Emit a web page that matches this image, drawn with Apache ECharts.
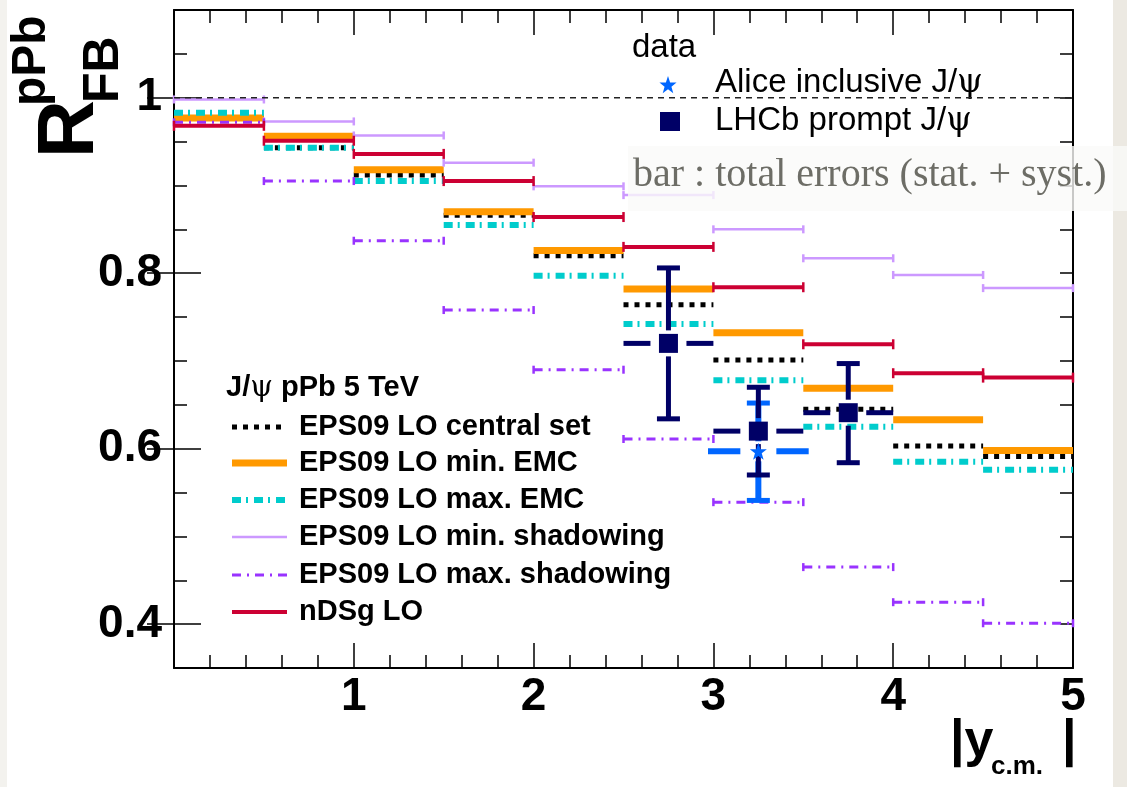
<!DOCTYPE html>
<html>
<head>
<meta charset="UTF-8">
<title>R_FB pPb - J/psi</title>
<script src="https://cdn.jsdelivr.net/npm/echarts@6/dist/echarts.min.js"></script>
<style>
  html, body { margin: 0; padding: 0; background: #ffffff; }
  #chart { width: 1127px; height: 787px; }
</style>
</head>
<body>
<div id="chart"></div>
<script>
// ---------------- data ----------------
// |y_cm| bins
const binLo = [0, 0.5, 1, 1.5, 2, 2.5, 3, 3.5, 4, 4.5];
const binHi = [0.5, 1, 1.5, 2, 2.5, 3, 3.5, 4, 4.5, 5];

// model curves (one value per bin)
const eps09Central   = [0.977, 0.943, 0.912, 0.866, 0.820, 0.764, 0.701, 0.645, 0.603, 0.591];
const eps09MinEMC    = [0.977, 0.956, 0.918, 0.870, 0.826, 0.782, 0.732, 0.669, 0.633, 0.598];
const eps09MaxEMC    = [0.983, 0.943, 0.905, 0.855, 0.797, 0.742, 0.678, 0.625, 0.585, 0.576];
const eps09MinShadow = [0.998, 0.973, 0.957, 0.926, 0.899, 0.889, 0.850, 0.817, 0.798, 0.783];
const eps09MaxShadow = [0.972, 0.905, 0.837, 0.758, 0.690, 0.611, 0.539, 0.465, 0.425, 0.401];
const ndsgLO         = [0.968, 0.951, 0.936, 0.905, 0.864, 0.830, 0.784, 0.719, 0.686, 0.681];

// measurements
const lhcbX    = [2.75, 3.25, 3.75];
const lhcbXerr = [0.25, 0.25, 0.25];
const lhcbY    = [0.720, 0.620, 0.641];
const lhcbYlo  = [0.634, 0.570, 0.584];
const lhcbYhi  = [0.806, 0.670, 0.697];

const aliceX    = [3.25];
const aliceXerr = [0.28];
const aliceY    = [0.597];
const aliceYlo  = [0.541];
const aliceYhi  = [0.652];

const yTickLabels = [0.4, 0.6, 0.8, 1];
const refLevel = [1];

// ---------------- styles ----------------
const FONT = "'Liberation Sans', Arial, Helvetica, sans-serif";
const SERIF = "'DejaVu Serif', 'Liberation Serif', serif";
const NAVY = '#000066';
const BLUE = '#0066ff';
// 5 point star in a 100x100 box
const starPts = [[50, 0], [61.8, 33.8], [97.6, 34.5], [69, 56.2], [79.4, 90.5], [50, 70],
                 [20.6, 90.5], [31, 56.2], [2.4, 34.5], [38.2, 33.8]];
const STAR = 'path://M' + starPts.map(p => p[0] + ' ' + p[1]).join('L') + 'Z';

const models = [
  { name: 'EPS09 LO central set',     values: eps09Central,   color: '#000000', width: 5, dash: [5, 6], cap: 0 },
  { name: 'EPS09 LO min. EMC',        values: eps09MinEMC,    color: '#ff9900', width: 7, dash: null, cap: 0 },
  { name: 'EPS09 LO max. EMC',        values: eps09MaxEMC,    color: '#00cccc', width: 6, dash: [9, 5, 2, 6], cap: 0 },
  { name: 'EPS09 LO min. shadowing',  values: eps09MinShadow, color: '#cc99ff', width: 2.5, dash: null, cap: 8 },
  { name: 'EPS09 LO max. shadowing',  values: eps09MaxShadow, color: '#9933ff', width: 3, dash: [9, 6, 2, 6], cap: 8 },
  { name: 'nDSg LO',                  values: ndsgLO,         color: '#cc0033', width: 4, dash: null, cap: 10 }
];

// step curve: one horizontal segment per bin
function stepSeries(m) {
  return {
    type: 'custom',
    name: m.name,
    data: m.values.map((v, i) => [binLo[i], binHi[i], v]),
    encode: { x: [0, 1], y: 2 },
    renderItem: function (params, api) {
      const a = api.coord([api.value(0), api.value(2)]);
      const b = api.coord([api.value(1), api.value(2)]);
      const children = [{
        type: 'line',
        shape: { x1: a[0], y1: a[1], x2: b[0], y2: b[1] },
        style: { stroke: m.color, lineWidth: m.width, lineDash: m.dash, lineCap: 'butt' }
      }];
      if (m.cap) {
        [a, b].forEach(p => children.push({
          type: 'line',
          shape: { x1: p[0], y1: p[1] - m.cap / 2, x2: p[0], y2: p[1] + m.cap / 2 },
          style: { stroke: m.color, lineWidth: 2.5 }
        }));
      }
      return { type: 'group', children: children };
    }
  };
}

// error bars (gap around the marker)
function errorSeries(name, xs, xerr, ys, ylo, yhi, color, lw, gapX, gapY) {
  return {
    type: 'custom',
    name: name,
    data: xs.map((x, i) => [x, ys[i], x - xerr[i], x + xerr[i], ylo[i], yhi[i]]),
    encode: { x: [0, 2, 3], y: [1, 4, 5] },
    renderItem: function (params, api) {
      const c = api.coord([api.value(0), api.value(1)]);
      const l = api.coord([api.value(2), api.value(1)]);
      const r = api.coord([api.value(3), api.value(1)]);
      const lo = api.coord([api.value(0), api.value(4)]);
      const hi = api.coord([api.value(0), api.value(5)]);
      const st = { stroke: color, lineWidth: lw };
      const cap = { stroke: color, lineWidth: 5 };
      const capW = 23;
      const seg = (x1, y1, x2, y2, s) => ({ type: 'line', shape: { x1: x1, y1: y1, x2: x2, y2: y2 }, style: s });
      return {
        type: 'group',
        children: [
          seg(l[0], c[1], c[0] - gapX, c[1], st),
          seg(c[0] + gapX, c[1], r[0], c[1], st),
          seg(c[0], hi[1], c[0], c[1] - gapY, st),
          seg(c[0], c[1] + gapY, c[0], lo[1], st),
          seg(c[0] - capW / 2, hi[1], c[0] + capW / 2, hi[1], cap),
          seg(c[0] - capW / 2, lo[1], c[0] + capW / 2, lo[1], cap)
        ]
      };
    }
  };
}

const series = models.map(stepSeries);

// dashed reference line at 1
series.push({
  type: 'custom',
  name: 'ref',
  data: refLevel.map(v => [0, 5, v]),
  encode: { x: [0, 1], y: 2 },
  renderItem: function (params, api) {
    const a = api.coord([api.value(0), api.value(2)]);
    const b = api.coord([api.value(1), api.value(2)]);
    return { type: 'line', shape: { x1: a[0], y1: a[1], x2: b[0], y2: b[1] },
             style: { stroke: '#222', lineWidth: 1.5, lineDash: [6, 5] } };
  }
});

series.push(errorSeries('Alice err', aliceX, aliceXerr, aliceY, aliceYlo, aliceYhi, BLUE, 6, 18, 10));
series.push({
  type: 'scatter', name: 'Alice inclusive J/ψ',
  data: aliceX.map((x, i) => [x, aliceY[i]]),
  symbol: STAR, symbolSize: 17, itemStyle: { color: BLUE, opacity: 1 }
});
series.push(errorSeries('LHCb err', lhcbX, lhcbXerr, lhcbY, lhcbYlo, lhcbYhi, NAVY, 5, 18, 13));
series.push({
  type: 'scatter', name: 'LHCb prompt J/ψ',
  data: lhcbX.map((x, i) => [x, lhcbY[i]]),
  symbol: 'rect', symbolSize: 19, itemStyle: { color: NAVY, opacity: 1 }
});
series.forEach(s => { s.xAxisIndex = 0; s.yAxisIndex = 0; s.silent = true; });

// ---------------- axes ----------------
const tickLine = { color: '#000', width: 1.5 };
function xAx(pos, labels) {
  return {
    type: 'value', min: 0, max: 5, interval: 1, position: pos,
    axisLine: { show: true, onZero: false, lineStyle: { color: '#000', width: 2 } },
    axisTick: { show: true, inside: true, length: 25, lineStyle: tickLine },
    minorTick: { show: true, splitNumber: 5, length: 13, lineStyle: tickLine },
    axisLabel: {
      show: labels, margin: 6, color: '#000', fontSize: 46, fontWeight: 'bold', fontFamily: FONT,
      formatter: v => (v === 0 ? '' : String(v))
    },
    splitLine: { show: false }, minorSplitLine: { show: false }
  };
}
function yMinor(pos, labels) {
  return {
    type: 'value', min: 0.35, max: 1.1, interval: 0.05, position: pos,
    axisLine: { show: true, onZero: false, lineStyle: { color: '#000', width: 2 } },
    axisTick: { show: true, inside: true, length: 13, lineStyle: tickLine },
    axisLabel: {
      show: labels, customValues: yTickLabels, margin: 12, color: '#000',
      fontSize: 46, fontWeight: 'bold', fontFamily: FONT,
      formatter: v => (Math.abs(v - 1) < 1e-9 ? '1' : v.toFixed(1))
    },
    splitLine: { show: false }
  };
}
function yMajor(pos) {
  return {
    type: 'value', min: 0.35, max: 1.1, position: pos,
    axisLine: { show: false },
    axisTick: { show: true, inside: true, length: 27, customValues: yTickLabels, lineStyle: tickLine },
    axisLabel: { show: false },
    splitLine: { show: false }
  };
}

// ---------------- legend / annotations ----------------
const legendRows = [427, 463, 500, 537, 575, 612];
const txt = (x, y, text, size, extra) => Object.assign({
  type: 'text', x: x, y: y,
  style: Object.assign({ text: text, fontSize: size, fontFamily: FONT, fill: '#000', align: 'left', verticalAlign: 'middle' }, extra || {})
});
const psiRich = size => ({ rich: { s: { fontSize: size, fontFamily: SERIF, fill: '#000' } } });

const graphics = [
  { type: 'rect', shape: { x: 0, y: 0, width: 7, height: 787 }, style: { fill: '#f3f2ee' }, z: -5 },
  { type: 'rect', shape: { x: 1113, y: 0, width: 14, height: 787 }, style: { fill: '#ece9e2' }, z: -5 },
  // y title
  Object.assign(txt(71, 158, 'R', 80, { fontWeight: 'bold' }), { rotation: Math.PI / 2 }),
  Object.assign(txt(32, 106, 'pPb', 48, { fontWeight: 'bold' }), { rotation: Math.PI / 2 }),
  Object.assign(txt(104, 103, 'FB', 50, { fontWeight: 'bold' }), { rotation: Math.PI / 2 }),
  // x title
  txt(950, 742, '|y', 52, { fontWeight: 'bold' }),
  txt(991, 767, 'c.m.', 26, { fontWeight: 'bold' }),
  txt(1062, 742, '|', 52, { fontWeight: 'bold' }),
  // data legend
  txt(632, 48, 'data', 33),
  { type: 'polygon', shape: { points: starPts.map(p => [659 + p[0] * 0.18, 76 + p[1] * 0.19]) }, style: { fill: BLUE } },
  txt(715, 83, 'Alice inclusive J/{s|ψ}', 33, psiRich(33)),
  { type: 'rect', shape: { x: 660, y: 112, width: 20, height: 19 }, style: { fill: NAVY } },
  txt(715, 121, 'LHCb prompt J/{s|ψ}', 33, psiRich(33)),
  { type: 'rect', shape: { x: 628, y: 146, width: 499, height: 65 }, style: { fill: 'rgba(250,250,249,0.8)' }, z: 50 },
  Object.assign(txt(633, 175, 'bar : total errors (stat. + syst.)', 40,
    { fontFamily: "'Liberation Serif', 'DejaVu Serif', serif", fill: '#6d6d66' }), { z: 51 }),
  // model legend header
  txt(226, 388, 'J/{s|ψ} pPb 5 TeV', 29, Object.assign({ fontWeight: 'bold' }, psiRich(29)))
];
models.forEach((m, i) => {
  const y = legendRows[i];
  graphics.push({ type: 'line', shape: { x1: 232, y1: y, x2: 287, y2: y },
                  style: { stroke: m.color, lineWidth: m.width, lineDash: m.dash } });
  graphics.push(txt(299, y, m.name, 29, { fontWeight: 'bold' }));
});

// ---------------- chart ----------------
const chart = echarts.init(document.getElementById('chart'), null, { renderer: 'canvas' });
chart.setOption({
  animation: false,
  backgroundColor: '#ffffff',
  grid: { left: 174, right: 54, top: 10, bottom: 119 },
  xAxis: [xAx('bottom', true), xAx('top', false)],
  yAxis: [yMinor('left', true), yMajor('left'), yMinor('right', false), yMajor('right')],
  series: series,
  graphic: graphics
});
</script>
</body>
</html>
